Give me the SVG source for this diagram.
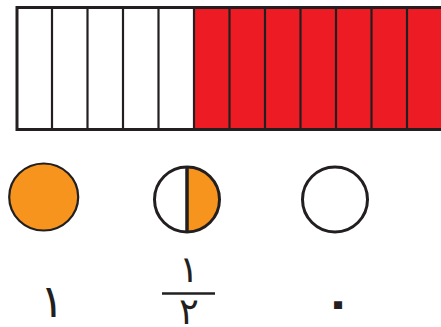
<svg xmlns="http://www.w3.org/2000/svg" width="441" height="327" viewBox="0 0 441 327">
<style>
.cell{stroke:#231F20;stroke-width:2.2}
.w{fill:#FFFFFF}
.r{fill:#ED1C24}
.c{stroke:#231F20;stroke-width:3}
.t{font-family:"DejaVu Sans",sans-serif;fill:#231F20;text-anchor:middle}
</style>
<g id="bar">
<rect class="w" x="17" y="7.5" width="177" height="122"/>
<rect class="r" x="194" y="7.5" width="260" height="122"/>
<g class="cell">
<line x1="52" y1="7.5" x2="52" y2="129.5"/>
<line x1="87.5" y1="7.5" x2="87.5" y2="129.5"/>
<line x1="123" y1="7.5" x2="123" y2="129.5"/>
<line x1="158.5" y1="7.5" x2="158.5" y2="129.5"/>
<line x1="194" y1="7.5" x2="194" y2="129.5"/>
<line x1="229.5" y1="7.5" x2="229.5" y2="129.5"/>
<line x1="265" y1="7.5" x2="265" y2="129.5"/>
<line x1="300.5" y1="7.5" x2="300.5" y2="129.5"/>
<line x1="336" y1="7.5" x2="336" y2="129.5"/>
<line x1="371.5" y1="7.5" x2="371.5" y2="129.5"/>
<line x1="407" y1="7.5" x2="407" y2="129.5"/>
</g>
<rect x="17" y="7.5" width="440" height="122" fill="none" stroke="#231F20" stroke-width="3"/>
</g>
<g id="full">
<ellipse cx="43.7" cy="197" rx="34.5" ry="33.5" fill="#F7941D" stroke="#231F20" stroke-width="2.2"/>
</g>
<g id="half">
<path d="M187,167 A32.5,32.5 0 0 1 187,232 Z" fill="#F7941D"/>
<circle class="c" cx="187" cy="199.5" r="32.5" fill="none"/>
<line x1="187" y1="167" x2="187" y2="232" stroke="#231F20" stroke-width="3.5"/>
</g>
<g id="empty">
<circle class="c" cx="335" cy="199.5" r="32.5" fill="#FFFFFF"/>
</g>
<g id="labels">
<text class="t" x="52" y="317" font-size="46">١</text>
<text class="t" x="189" y="282" font-size="37">١</text>
<line x1="162" y1="293.5" x2="215" y2="293.5" stroke="#231F20" stroke-width="2.5"/>
<text class="t" x="189" y="324" font-size="37">٢</text>
<text class="t" x="338" y="318" font-size="46" font-weight="bold">٠</text>
</g>
</svg>
